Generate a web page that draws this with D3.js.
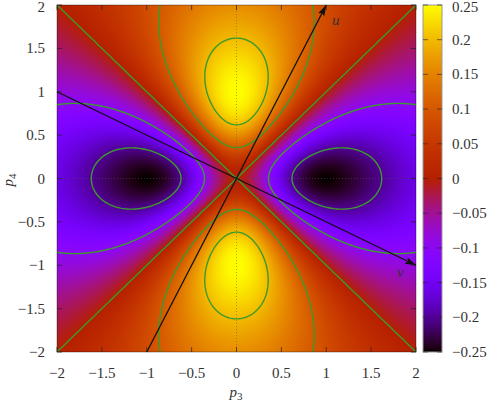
<!DOCTYPE html>
<html>
<head>
<meta charset="utf-8">
<script src="https://cdn.jsdelivr.net/npm/d3@7"></script>
<style>
  body { margin: 0; background: #fff; }
</style>
</head>
<body>
<svg id="chart" width="491" height="403" font-family="'Liberation Serif', 'Times New Roman', serif" font-size="15" fill="#333"></svg>
<script>
// axis ranges and ticks
const xDomain = [-2, 2];
const yDomain = [-2, 2];
const xTicks = [-2, -1.5, -1, -0.5, 0, 0.5, 1, 1.5, 2];
const yTicks = [-2, -1.5, -1, -0.5, 0, 0.5, 1, 1.5, 2];
const cbDomain = [-0.25, 0.25];
const cbTicks = [-0.25, -0.2, -0.15, -0.1, -0.05, 0, 0.05, 0.1, 0.15, 0.2, 0.25];
const contourLevels = [-0.2, -0.1, 1e-7, 0.1, 0.2];
// arrows: [x1, y1, x2, y2, label]
const arrows = [
  [-1, -2, 1, 2, "u"],
  [-2, 1, 2, -1, "v"]
];

// surface f(p3, p4)
function f(p3, p4) {
  let r = 1 + p3 * p3 + p4 * p4;
  return (p4 * p4 - p3 * p3) / (r * r);
}

// gnuplot rgbformulae 7,5,15
function palette(t) {
  t = Math.max(0, Math.min(1, t));
  let r = Math.sqrt(t), g = t * t * t, b = Math.max(0, Math.sin(2 * Math.PI * t));
  return [Math.round(r * 255), Math.round(g * 255), Math.round(b * 255)];
}

const svg = d3.select("#chart");
const pl = 57, pr = 416, pt = 5, pb = 352;
const x = d3.scaleLinear().domain(xDomain).range([pl, pr]);
const y = d3.scaleLinear().domain(yDomain).range([pb, pt]);
const c = d3.scaleLinear().domain(cbDomain).range([0, 1]).clamp(true);

// heatmap drawn pixel by pixel into a canvas
let w = pr - pl, h = pb - pt;
let canvas = document.createElement("canvas");
canvas.width = w; canvas.height = h;
let ctx = canvas.getContext("2d");
let img = ctx.createImageData(w, h);
for (let j = 0; j < h; j++) {
  for (let i = 0; i < w; i++) {
    let col = palette(c(f(x.invert(pl + i + 0.5), y.invert(pt + j + 0.5))));
    let k = (j * w + i) * 4;
    img.data[k] = col[0]; img.data[k + 1] = col[1]; img.data[k + 2] = col[2]; img.data[k + 3] = 255;
  }
}
ctx.putImageData(img, 0, 0);

let defs = svg.append("defs");
defs.append("clipPath").attr("id", "plotclip")
  .append("rect").attr("x", pl).attr("y", pt).attr("width", w).attr("height", h);

svg.append("image")
  .attr("x", pl).attr("y", pt).attr("width", w).attr("height", h)
  .attr("preserveAspectRatio", "none")
  .attr("href", canvas.toDataURL());

// zero axes, dotted
svg.append("line").attr("x1", x(0)).attr("x2", x(0)).attr("y1", pt).attr("y2", pb)
  .attr("stroke", "#555").attr("stroke-opacity", 0.5).attr("stroke-dasharray", "1,2");
svg.append("line").attr("x1", pl).attr("x2", pr).attr("y1", y(0)).attr("y2", y(0))
  .attr("stroke", "#555").attr("stroke-opacity", 0.5).attr("stroke-dasharray", "1,2");

// contours
let n = 301, g0 = -2.2, gs = 4.4 / (n - 1);
let values = new Array(n * n);
for (let j = 0; j < n; j++)
  for (let i = 0; i < n; i++)
    values[i + j * n] = f(g0 + i * gs, g0 + j * gs);

let contours = d3.contours().size([n, n]).thresholds(contourLevels)(values);
let proj = d3.geoTransform({
  point: function(px, py) {
    this.stream.point(x(g0 + (px - 0.5) * gs), y(g0 + (py - 0.5) * gs));
  }
});
svg.append("g").attr("clip-path", "url(#plotclip)")
  .selectAll("path").data(contours).join("path")
  .attr("d", d3.geoPath(proj))
  .attr("fill", "none")
  .attr("stroke", "#3c9a2c")
  .attr("stroke-width", 1.4);

// arrows
defs.append("marker")
  .attr("id", "head").attr("viewBox", "0 0 11 7").attr("refX", 11).attr("refY", 3.5)
  .attr("markerWidth", 11).attr("markerHeight", 7).attr("markerUnits", "userSpaceOnUse")
  .attr("orient", "auto")
  .append("path").attr("d", "M0,0L11,3.5L0,7L2,3.5Z").attr("fill", "#111");

svg.append("g").selectAll("line").data(arrows).join("line")
  .attr("x1", d => x(d[0])).attr("y1", d => y(d[1]))
  .attr("x2", d => x(d[2])).attr("y2", d => y(d[3]))
  .attr("stroke", "#111").attr("stroke-width", 1.3)
  .attr("marker-end", "url(#head)");

svg.append("text").attr("x", 332).attr("y", 25).attr("font-style", "italic").text("u");
svg.append("text").attr("x", 397).attr("y", 277).attr("font-style", "italic").text("v");

// ticks (inward, all four sides)
let tk = svg.append("g").attr("stroke", "#222").attr("stroke-opacity", 0.7);
xTicks.forEach(t => {
  tk.append("line").attr("x1", x(t)).attr("x2", x(t)).attr("y1", pb).attr("y2", pb - 5);
  tk.append("line").attr("x1", x(t)).attr("x2", x(t)).attr("y1", pt).attr("y2", pt + 5);
});
yTicks.forEach(t => {
  tk.append("line").attr("x1", pl).attr("x2", pl + 5).attr("y1", y(t)).attr("y2", y(t));
  tk.append("line").attr("x1", pr).attr("x2", pr - 5).attr("y1", y(t)).attr("y2", y(t));
});

svg.append("rect").attr("x", pl).attr("y", pt).attr("width", w).attr("height", h)
  .attr("fill", "none").attr("stroke", "#000").attr("stroke-opacity", 0.35);

const fmt = v => (v < 0 ? "\u2212" : "") + d3.format("")(Math.abs(v));

svg.append("g").selectAll("text").data(xTicks).join("text")
  .attr("x", d => x(d)).attr("y", 378).attr("text-anchor", "middle").text(fmt);
svg.append("g").selectAll("text").data(yTicks).join("text")
  .attr("x", 45).attr("y", d => Math.max(y(d) + 5, 12)).attr("text-anchor", "end").text(fmt);

// axis labels
let xl = svg.append("text").attr("x", 236).attr("y", 397).attr("text-anchor", "middle");
xl.append("tspan").attr("font-style", "italic").text("p");
xl.append("tspan").attr("font-size", "11").attr("dy", 3).text("3");
let yl = svg.append("text").attr("transform", "translate(13,180) rotate(-90)").attr("text-anchor", "middle");
yl.append("tspan").attr("font-style", "italic").text("p");
yl.append("tspan").attr("font-size", "11").attr("dy", 3).text("4");

// colour box
const cbLeft = 423, cbRight = 442;
const cy = d3.scaleLinear().domain(cbDomain).range([pb, pt]);
let grad = defs.append("linearGradient").attr("id", "cbgrad")
  .attr("x1", 0).attr("y1", 1).attr("x2", 0).attr("y2", 0);
d3.range(0, 1.0001, 0.01).forEach(t => {
  let col = palette(t);
  grad.append("stop").attr("offset", t).attr("stop-color", `rgb(${col[0]},${col[1]},${col[2]})`);
});
svg.append("rect").attr("x", cbLeft).attr("y", pt).attr("width", cbRight - cbLeft).attr("height", h)
  .attr("fill", "url(#cbgrad)").attr("stroke", "#999").attr("stroke-width", 1);

let ctk = svg.append("g").attr("stroke", "#222").attr("stroke-opacity", 0.6);
cbTicks.forEach(t => {
  ctk.append("line").attr("x1", cbLeft).attr("x2", cbLeft + 5).attr("y1", cy(t)).attr("y2", cy(t));
  ctk.append("line").attr("x1", cbRight).attr("x2", cbRight - 5).attr("y1", cy(t)).attr("y2", cy(t));
});
svg.append("g").selectAll("text").data(cbTicks).join("text")
  .attr("x", 452).attr("y", d => Math.max(cy(d) + 5, 12)).text(fmt);
</script>
</body>
</html>
